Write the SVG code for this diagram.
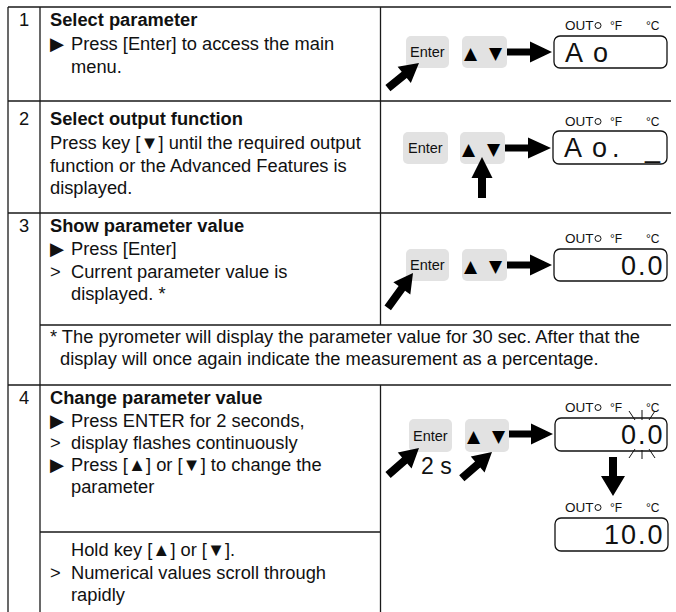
<svg xmlns="http://www.w3.org/2000/svg" width="676" height="612" viewBox="0 0 676 612">
<style>
.grid{stroke:#1a1a1a;stroke-width:1.3;fill:none}
.t{font-family:"Liberation Sans","DejaVu Sans",Arial,sans-serif;font-size:18.3px;fill:#111}
.b{font-weight:bold}
.key{fill:#e2e2e2}
.kt{font-family:"Liberation Sans",Arial,sans-serif;font-size:14.5px;fill:#111}
.tri{font-family:"DejaVu Sans",sans-serif;font-size:17px;fill:#000}
.disp{fill:#fff;stroke:#111;stroke-width:1.3}
.lab{font-family:"Liberation Sans",Arial,sans-serif;font-size:13.5px;fill:#111}
.deg{font-family:"Liberation Sans",Arial,sans-serif;font-size:12px;fill:#111}
.led{fill:none;stroke:#111;stroke-width:1}
.seg{font-family:"Liberation Sans",Arial,sans-serif;font-size:27px;fill:#111;letter-spacing:2px}
.arr{fill:#000}
.ray{stroke:#111;stroke-width:1}
</style>
<rect width="676" height="612" fill="#fff"/>
<g id="grid">
<path class="grid" d="M8,7H671M8,101H671M8,213H671M40,325H671M8,385H671M40,532H380M8,7V612M40,7V612M380.5,7V325M380.5,385V612"/>
</g>
<g id="step1">
<text class="t" x="19" y="26">1</text>
<text class="t b" x="50" y="26">Select parameter</text>
<text class="t" x="50" y="50">▶</text><text class="t" x="71" y="50">Press [Enter] to access the main</text>
<text class="t" x="71" y="72.5">menu.</text>
</g>
<g id="step2">
<text class="t" x="19" y="125">2</text>
<text class="t b" x="50" y="125">Select output function</text>
<text class="t" x="50" y="149">Press key [▼] until the required output</text>
<text class="t" x="50" y="171.5">function or the Advanced Features is</text>
<text class="t" x="50" y="194">displayed.</text>
</g>
<g id="step3">
<text class="t" x="19" y="232">3</text>
<text class="t b" x="50" y="232">Show parameter value</text>
<text class="t" x="50" y="255">▶</text><text class="t" x="71" y="255">Press [Enter]</text>
<text class="t" x="50" y="277.5">&gt;</text><text class="t" x="71" y="277.5">Current parameter value is</text>
<text class="t" x="71" y="300">displayed. *</text>
</g>
<g id="footnote">
<text class="t" x="50" y="343">* The pyrometer will display the parameter value for 30 sec. After that the</text>
<text class="t" x="60" y="365">display will once again indicate the measurement as a percentage.</text>
</g>
<g id="step4">
<text class="t" x="19" y="404">4</text>
<text class="t b" x="50" y="404">Change parameter value</text>
<text class="t" x="50" y="427">▶</text><text class="t" x="71" y="427">Press ENTER for 2 seconds,</text>
<text class="t" x="50" y="449">&gt;</text><text class="t" x="71" y="449">display flashes continuously</text>
<text class="t" x="50" y="471">▶</text><text class="t" x="71" y="471">Press [▲] or [▼] to change the</text>
<text class="t" x="71" y="493">parameter</text>
</g>
<g id="step4b">
<text class="t" x="71" y="556">Hold key [▲] or [▼].</text>
<text class="t" x="50" y="579">&gt;</text><text class="t" x="71" y="579">Numerical values scroll through</text>
<text class="t" x="71" y="601">rapidly</text>
</g>
<g id="fig1">
<rect class="key" x="406" y="36" width="43" height="32" rx="5"/>
<text class="kt" x="410" y="57">Enter</text>
<rect class="key" x="462" y="36" width="45" height="32" rx="5"/>
<text class="tri" y="59"><tspan x="464">▲</tspan><tspan x="489">▼</tspan></text>
<text class="lab" x="565" y="30">OUT</text><circle class="led" cx="598" cy="25.5" r="3"/>
<text class="deg" x="610" y="30">°F</text><text class="deg" x="646" y="30">°C</text>
<rect class="disp" x="554" y="36" width="113" height="32" rx="6"/>
<text class="seg" x="565" y="62">A<tspan x="593">o</tspan></text>
</g>
<g id="fig2">
<rect class="key" x="403" y="132" width="45" height="32" rx="5"/>
<text class="kt" x="408" y="153">Enter</text>
<rect class="key" x="460" y="132" width="45" height="32" rx="5"/>
<text class="tri" y="155"><tspan x="462">▲</tspan><tspan x="487">▼</tspan></text>
<text class="lab" x="565" y="126">OUT</text><circle class="led" cx="598" cy="121.5" r="3"/>
<text class="deg" x="610" y="126">°F</text><text class="deg" x="646" y="126">°C</text>
<rect class="disp" x="553" y="131" width="114" height="33" rx="6"/>
<text class="seg" x="564" y="157">A<tspan x="592">o</tspan><tspan x="612">.</tspan><tspan x="645">_</tspan></text>
</g>
<g id="fig3">
<rect class="key" x="406" y="249" width="43" height="32" rx="5"/>
<text class="kt" x="410" y="270">Enter</text>
<rect class="key" x="462" y="249" width="45" height="32" rx="5"/>
<text class="tri" y="272"><tspan x="464">▲</tspan><tspan x="489">▼</tspan></text>
<text class="lab" x="565" y="243">OUT</text><circle class="led" cx="598" cy="238.5" r="3"/>
<text class="deg" x="610" y="243">°F</text><text class="deg" x="646" y="243">°C</text>
<rect class="disp" x="554" y="249" width="113" height="32" rx="6"/>
<text class="seg" x="621" y="275">0.0</text>
</g>
<g id="fig4">
<rect class="key" x="409" y="419" width="43" height="33" rx="5"/>
<text class="kt" x="413" y="441">Enter</text>
<rect class="key" x="465" y="419" width="44" height="33" rx="5"/>
<text class="tri" y="442"><tspan x="467">▲</tspan><tspan x="492">▼</tspan></text>
<text class="t" x="421" y="474" style="font-size:23px">2 s</text>
<text class="lab" x="565" y="412">OUT</text><circle class="led" cx="598" cy="407.5" r="3"/>
<text class="deg" x="610" y="412">°F</text><text class="deg" x="646" y="412">°C</text>
<rect class="disp" x="555" y="418" width="112" height="33" rx="6"/>
<text class="seg" x="621" y="444">0.0</text>
<path class="ray" d="M629,411L635,420M642,410V420M655,411L649,420M635,449L629,458M642,450V459M649,449L655,458"/>
<text class="lab" x="565" y="512">OUT</text><circle class="led" cx="598" cy="507.5" r="3"/>
<text class="deg" x="610" y="512">°F</text><text class="deg" x="646" y="512">°C</text>
<rect class="disp" x="555" y="518" width="113" height="33" rx="6"/>
<text class="seg" x="604" y="544">10.0</text>
</g>
<g id="connectors">
<polygon class="arr" points="507,48.5 530,48.5 530,41.5 552,52 530,62.5 530,55.5 507,55.5"/>
<polygon class="arr" points="505,144.5 528,144.5 528,137.5 551,148 528,158.5 528,151.5 505,151.5"/>
<polygon class="arr" points="507,261.5 530,261.5 530,254.5 552,265 530,275.5 530,268.5 507,268.5"/>
<polygon class="arr" points="509,430.5 531,430.5 531,423.5 553,434 531,444.5 531,437.5 509,437.5"/>
<polygon class="arr" transform="translate(419,63) rotate(-39)" points="0,0 -19,-10.5 -19,-4 -40,-4 -40,4 -19,4 -19,10.5"/>
<polygon class="arr" transform="translate(413,273) rotate(-54)" points="0,0 -19,-10.5 -19,-4 -43,-4 -43,4 -19,4 -19,10.5"/>
<polygon class="arr" transform="translate(419,448) rotate(-41)" points="0,0 -19,-10.5 -19,-4 -41,-4 -41,4 -19,4 -19,10.5"/>
<polygon class="arr" transform="translate(492,452) rotate(-41)" points="0,0 -19,-10.5 -19,-4 -40,-4 -40,4 -19,4 -19,10.5"/>
<polygon class="arr" points="482,157 492.5,178 486,178 486,198 478,198 478,178 471.5,178"/>
<polygon class="arr" points="613,496 625,476 617,476 617,457 609,457 609,476 601,476"/>
</g>
</svg>
